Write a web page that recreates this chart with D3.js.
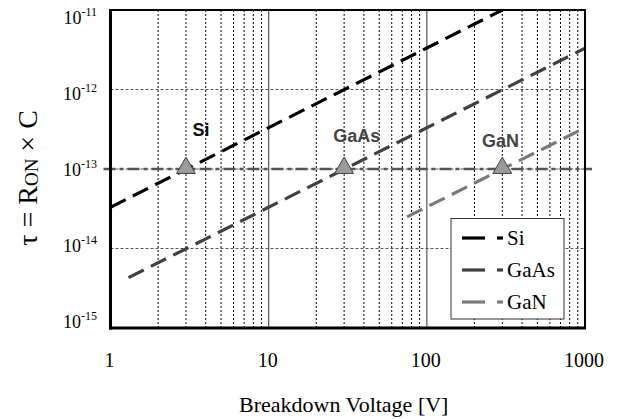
<!DOCTYPE html>
<html>
<head>
<meta charset="utf-8">
<script src="https://cdn.jsdelivr.net/npm/d3@7"></script>
<style>
  html, body { margin: 0; padding: 0; background: #fff; }
  svg { display: block; }
</style>
</head>
<body>
<script>
// Series: breakdown voltage [V] vs time constant tau = R_ON x C [s]
const seriesNames = ["Si", "GaAs", "GaN"];
const seriesColors = ["#000000", "#404040", "#7a7a7a"];
const siPoints = [[1, 3.3e-14], [300, 1e-11]];
const gaasPoints = [[1.3, 4.3e-15], [1000, 3.3e-12]];
const ganPoints = [[75, 2.5e-14], [1000, 3.3e-13]];
const markerVoltages = [3, 30, 300];
const markerTau = [1e-13, 1e-13, 1e-13];
const referenceTau = 1e-13;
const labelAnchors = [[3.74, 2.6e-13], [36, 2.19e-13], [292, 1.89e-13]];
const xTicks = [1, 10, 100, 1000];
const yExponents = [-11, -12, -13, -14, -15];

const W = 617, H = 419;
const m = { left: 110.5, right: 32, top: 10, bottom: 91 };
const x0 = m.left, x1 = W - m.right, y0 = m.top, y1 = H - m.bottom;

const svg = d3.select("body").append("svg").attr("width", W).attr("height", H);

const x = d3.scaleLog().domain([1, 1000]).range([x0, x1]);
const y = d3.scaleLog().domain([1e-15, 1e-11]).range([y1, y0]);

// grid: minor verticals dotted, decade verticals solid, decade horizontals dotted
const g = svg.append("g");
const minor = [];
for (let d = 1; d < 1000; d *= 10) for (let k = 2; k <= 9; k++) minor.push(d * k);
g.selectAll("line.minor").data(minor).join("line")
  .attr("x1", d => x(d)).attr("x2", d => x(d)).attr("y1", y0).attr("y2", y1)
  .attr("stroke", "#000").attr("stroke-width", 1).attr("stroke-dasharray", "2,2");
g.selectAll("line.major").data([10, 100]).join("line")
  .attr("x1", d => x(d)).attr("x2", d => x(d)).attr("y1", y0).attr("y2", y1)
  .attr("stroke", "#555").attr("stroke-width", 1.2);
g.selectAll("line.hgrid").data([1e-12, 1e-13, 1e-14]).join("line")
  .attr("x1", x0).attr("x2", x1).attr("y1", d => y(d)).attr("y2", d => y(d))
  .attr("stroke", "#555").attr("stroke-width", 1).attr("stroke-dasharray", "3,2");

// reference level tau = 1e-13, dash-dot, running a little past the frame
svg.append("line")
  .attr("x1", x0 - 7).attr("x2", x1 + 7)
  .attr("y1", y(referenceTau)).attr("y2", y(referenceTau))
  .attr("stroke", "#555").attr("stroke-width", 2.5)
  .attr("stroke-dasharray", "12,4,4,4");

// series lines
svg.append("clipPath").attr("id", "plotclip")
  .append("rect").attr("x", x0).attr("y", y0).attr("width", x1 - x0).attr("height", y1 - y0);
const line = d3.line().x(d => x(d[0])).y(d => y(d[1]));
const allSeries = [siPoints, gaasPoints, ganPoints];
svg.append("g").attr("clip-path", "url(#plotclip)")
  .selectAll("path").data(allSeries).join("path")
  .attr("d", line)
  .attr("fill", "none")
  .attr("stroke", (d, i) => seriesColors[i])
  .attr("stroke-width", 3.2)
  .attr("stroke-dasharray", "17,8");

// triangle markers
const tri = d3.symbol().type(d3.symbolTriangle).size(155);
svg.selectAll("path.mk").data(markerVoltages).join("path")
  .attr("transform", (d, i) => `translate(${x(d)},${y(markerTau[i]) - 1})`)
  .attr("d", tri)
  .attr("fill", "#9a9a9a").attr("stroke", "#444").attr("stroke-width", 1);

// material labels
svg.selectAll("text.mat").data(seriesNames).join("text")
  .attr("x", (d, i) => x(labelAnchors[i][0]))
  .attr("y", (d, i) => y(labelAnchors[i][1]))
  .attr("text-anchor", "middle")
  .style("font-family", "'Liberation Sans', Arial, sans-serif")
  .attr("font-weight", "bold").attr("font-size", 18)
  .attr("fill", (d, i) => i === 0 ? "#111" : "#444")
  .text(d => d);

// frame
svg.append("rect").attr("x", x0).attr("y", y0).attr("width", x1 - x0).attr("height", y1 - y0)
  .attr("fill", "none").attr("stroke", "#000").attr("stroke-width", 2);
svg.append("line").attr("x1", x0).attr("x2", x0).attr("y1", y0 - 1).attr("y2", y1 + 1.5)
  .attr("stroke", "#000").attr("stroke-width", 3);
svg.append("line").attr("x1", x0 - 1.5).attr("x2", x1 + 1).attr("y1", y1).attr("y2", y1)
  .attr("stroke", "#000").attr("stroke-width", 3);

// x tick labels
const serif = "'Liberation Serif', 'Times New Roman', serif";
svg.selectAll("text.xt").data(xTicks).join("text")
  .attr("x", d => x(d) - 1).attr("y", 367)
  .attr("text-anchor", "middle")
  .style("font-family", serif).attr("font-size", 20)
  .text(d => d);

// y tick labels 10^n, drawn slightly pulled toward the middle of the axis
const yMid = y(1e-13);
const yLabelPos = d => yMid + (y(Math.pow(10, d)) - yMid) * 0.953 + 1;
const yt = svg.selectAll("text.yt").data(yExponents).join("text")
  .attr("x", 97).attr("y", d => yLabelPos(d) + 6)
  .attr("text-anchor", "end")
  .style("font-family", serif).attr("font-size", 18);
yt.append("tspan").text("10");
yt.append("tspan").attr("dy", -8).attr("font-size", 12).text(d => String(d));

// axis titles
svg.append("text").attr("x", (x0 + x1) / 2 - 4).attr("y", 412)
  .attr("text-anchor", "middle")
  .style("font-family", serif).attr("font-size", 22)
  .text("Breakdown Voltage [V]");

const yl = svg.append("text")
  .attr("transform", "translate(37,178) rotate(-90)")
  .attr("text-anchor", "middle")
  .style("font-family", serif).attr("font-size", 28);
yl.append("tspan").text("τ = R");
yl.append("tspan").attr("font-size", 19).attr("dy", 1).text("ON");
yl.append("tspan").attr("dy", -1).text(" × C");

// legend
const lg = svg.append("g");
lg.append("rect").attr("x", 451).attr("y", 218.5).attr("width", 113).attr("height", 100.5)
  .attr("fill", "#fff").attr("stroke", "#333").attr("stroke-width", 1);
const rows = lg.selectAll("g.row").data(seriesNames).join("g")
  .attr("transform", (d, i) => `translate(0,${238 + i * 32})`);
rows.append("line").attr("x1", 462).attr("x2", 485).attr("y1", 0).attr("y2", 0)
  .attr("stroke", (d, i) => seriesColors[i]).attr("stroke-width", 3.2);
rows.append("line").attr("x1", 497).attr("x2", 503).attr("y1", 0).attr("y2", 0)
  .attr("stroke", (d, i) => seriesColors[i]).attr("stroke-width", 3.2);
rows.append("text").attr("x", 507).attr("y", 7)
  .style("font-family", serif).attr("font-size", 21)
  .text(d => d);
</script>
</body>
</html>
